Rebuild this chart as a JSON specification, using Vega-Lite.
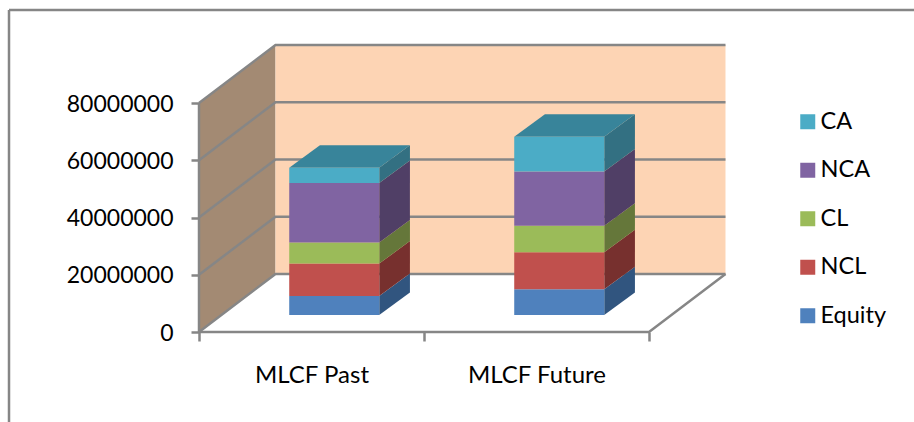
{
  "$schema": "https://vega.github.io/schema/vega-lite/v6.json",
  "width": 914,
  "height": 422,
  "padding": 0,
  "autosize": {"type": "none"},
  "background": "white",
  "view": {"stroke": null},
  "config": {"font": "Lato"},
  "params": [
    {"name": "wallDx", "value": 0.34},
    {"name": "wallDy", "value": 20260000},
    {"name": "barDx", "value": 0.1364},
    {"name": "barDy", "value": 7860000},
    {"name": "barBase", "value": 5940000},
    {"name": "barStart", "value": 0.401},
    {"name": "barWidth", "value": 0.4}
  ],
  "datasets": {
    "levels": [
      {"level": 0},
      {"level": 20000000},
      {"level": 40000000},
      {"level": 60000000},
      {"level": 80000000}
    ],
    "bars": [
      {"category": "MLCF Past", "series": "Equity", "value": 6650000},
      {"category": "MLCF Past", "series": "NCL", "value": 11300000},
      {"category": "MLCF Past", "series": "CL", "value": 7350000},
      {"category": "MLCF Past", "series": "NCA", "value": 20800000},
      {"category": "MLCF Past", "series": "CA", "value": 5360000},
      {"category": "MLCF Future", "series": "Equity", "value": 9000000},
      {"category": "MLCF Future", "series": "NCL", "value": 12950000},
      {"category": "MLCF Future", "series": "CL", "value": 9200000},
      {"category": "MLCF Future", "series": "NCA", "value": 19000000},
      {"category": "MLCF Future", "series": "CA", "value": 12150000}
    ]
  },
  "layer": [
    {
      "description": "Outer chart frame, left and top edges",
      "data": {"values": [{"edge": "left", "x": -0.8444, "x2": -0.8444, "y": -31441000, "y2": 112490000}, {"edge": "top", "x": -0.8444, "x2": 3.1778, "y": 112490000, "y2": 112490000}]},
      "mark": {"type": "rule", "color": "#868686", "strokeWidth": 2.5},
      "encoding": {
        "x": {"field": "x", "type": "quantitative", "title": null, "axis": null, "scale": {"domain": [-0.88444, 3.17778], "nice": false, "zero": false}},
        "x2": {"field": "x2"},
        "y": {"field": "y", "type": "quantitative", "title": null, "axis": null, "scale": {"domain": [-31441000, 115983000], "nice": false, "zero": false}},
        "y2": {"field": "y2"}
      }
    },
    {
      "description": "Side wall, a parallelogram running from the front plane to the back plane",
      "data": {"values": [{"depth": 0}, {"depth": 1}]},
      "transform": [
        {"calculate": "datum.depth * wallDx", "as": "wx"},
        {"calculate": "datum.depth * wallDy", "as": "wy"},
        {"calculate": "datum.wy + 80000000", "as": "wy2"}
      ],
      "mark": {"type": "area", "orient": "vertical", "color": "#A38A73"},
      "encoding": {
        "x": {"field": "wx", "type": "quantitative", "axis": null},
        "y": {"field": "wy", "type": "quantitative", "axis": null, "stack": null},
        "y2": {"field": "wy2"}
      }
    },
    {
      "description": "Back wall",
      "data": {"values": [{"wall": "back"}]},
      "transform": [
        {"calculate": "wallDx", "as": "wx"},
        {"calculate": "wallDx + 2", "as": "wx2"},
        {"calculate": "wallDy", "as": "wy"},
        {"calculate": "wallDy + 80000000", "as": "wy2"}
      ],
      "mark": {"type": "rect", "color": "#FDD4B4"},
      "encoding": {
        "x": {"field": "wx", "type": "quantitative", "axis": null},
        "x2": {"field": "wx2"},
        "y": {"field": "wy", "type": "quantitative", "axis": null},
        "y2": {"field": "wy2"}
      }
    },
    {
      "description": "Gridlines: up the side wall, then across the back wall",
      "data": {"name": "levels"},
      "transform": [
        {"calculate": "[0, 1, 2]", "as": "step"},
        {"flatten": ["step"]},
        {"calculate": "datum.step === 0 ? 0 : (datum.step === 1 ? wallDx : wallDx + 2)", "as": "gx"},
        {"calculate": "datum.level + (datum.step === 0 ? 0 : wallDy)", "as": "gy"}
      ],
      "mark": {"type": "line", "color": "#868686", "strokeWidth": 2.5},
      "encoding": {
        "x": {"field": "gx", "type": "quantitative", "axis": null},
        "y": {"field": "gy", "type": "quantitative", "axis": null},
        "detail": {"field": "level"},
        "order": {"field": "step"}
      }
    },
    {
      "description": "Front edge of the floor and its right-hand slant",
      "data": {"values": [{"step": 0}, {"step": 1}, {"step": 2}]},
      "transform": [
        {"calculate": "datum.step === 0 ? 0 : (datum.step === 1 ? 2 : 2 + wallDx)", "as": "gx"},
        {"calculate": "datum.step === 2 ? wallDy : 0", "as": "gy"}
      ],
      "mark": {"type": "line", "color": "#868686", "strokeWidth": 2.5},
      "encoding": {
        "x": {"field": "gx", "type": "quantitative", "axis": null},
        "y": {"field": "gy", "type": "quantitative", "axis": null},
        "order": {"field": "step"}
      }
    },
    {
      "description": "Left front edge of the wall",
      "data": {"values": [{"y": 0, "y2": 80000000, "x": 0}]},
      "mark": {"type": "rule", "color": "#868686", "strokeWidth": 2.5},
      "encoding": {
        "x": {"field": "x", "type": "quantitative", "axis": null},
        "y": {"field": "y", "type": "quantitative", "axis": null},
        "y2": {"field": "y2"}
      }
    },
    {
      "description": "Value axis",
      "data": {"name": "levels"},
      "mark": {"type": "tick", "opacity": 0},
      "encoding": {
        "y": {
          "field": "level",
          "type": "quantitative",
          "title": null,
          "axis": {
            "orient": "left",
            "values": [0, 20000000, 40000000, 60000000, 80000000],
            "format": "d",
            "offset": -199,
            "domain": false,
            "grid": false,
            "ticks": true,
            "tickSize": 8,
            "tickWidth": 2.5,
            "tickColor": "#868686",
            "labelFontSize": 23,
            "labelColor": "#000000",
            "labelPadding": 18,
            "labelOffset": 1
          }
        }
      }
    },
    {
      "description": "Category axis ticks between the groups",
      "data": {"values": [{"t": 0}, {"t": 1}, {"t": 2}]},
      "mark": {"type": "tick", "opacity": 0},
      "encoding": {
        "x": {
          "field": "t",
          "type": "quantitative",
          "title": null,
          "axis": {
            "orient": "bottom",
            "values": [0, 1, 2],
            "offset": -90,
            "domain": false,
            "grid": false,
            "labels": false,
            "tickSize": 9,
            "tickWidth": 2.5,
            "tickColor": "#868686"
          }
        }
      }
    },
    {
      "description": "Category axis labels centred under each group",
      "data": {"values": [{"c": 0.5}, {"c": 1.5}]},
      "mark": {"type": "tick", "opacity": 0},
      "encoding": {
        "x": {
          "field": "c",
          "type": "quantitative",
          "title": null,
          "axis": {
            "orient": "bottom",
            "values": [0.5, 1.5],
            "labelExpr": "datum.value < 1 ? 'MLCF Past' : 'MLCF Future'",
            "offset": -90,
            "domain": false,
            "grid": false,
            "ticks": false,
            "labelFontSize": 24,
            "labelColor": "#000000",
            "labelPadding": 31
          }
        }
      }
    },
    {
      "description": "Stacked boxes: right side faces, lid and front faces",
      "data": {"name": "bars"},
      "transform": [
        {"calculate": "indexof(['Equity', 'NCL', 'CL', 'NCA', 'CA'], datum.series)", "as": "rank"},
        {"stack": "value", "groupby": ["category"], "sort": [{"field": "rank", "order": "ascending"}], "as": ["v0", "v1"]},
        {"calculate": "indexof(['MLCF Past', 'MLCF Future'], datum.category) + barStart", "as": "left"},
        {"calculate": "datum.left + barWidth", "as": "right"},
        {"calculate": "datum.v0 + barBase", "as": "low"},
        {"calculate": "datum.v1 + barBase", "as": "high"}
      ],
      "layer": [
        {
          "transform": [
            {"calculate": "[0, 1]", "as": "depth"},
            {"flatten": ["depth"]},
            {"calculate": "datum.right + datum.depth * barDx", "as": "sx"},
            {"calculate": "datum.low + datum.depth * barDy", "as": "sy"},
            {"calculate": "datum.high + datum.depth * barDy", "as": "sy2"}
          ],
          "mark": {"type": "area", "orient": "vertical"},
          "encoding": {
            "x": {"field": "sx", "type": "quantitative", "axis": null},
            "y": {"field": "sy", "type": "quantitative", "axis": null, "stack": null},
            "y2": {"field": "sy2"},
            "detail": {"field": "category"},
            "color": {
              "field": "series",
              "type": "nominal",
              "legend": null,
              "scale": {"domain": ["CA", "NCA", "CL", "NCL", "Equity"], "range": ["#337082", "#503F66", "#65773A", "#77302E", "#31557F"]}
            }
          }
        },
        {
          "transform": [
            {"filter": "datum.series === 'CA'"},
            {"calculate": "[0, 1]", "as": "depth"},
            {"flatten": ["depth"]},
            {"calculate": "datum.left + datum.depth * barDx", "as": "tx"},
            {"calculate": "datum.right + datum.depth * barDx", "as": "tx2"},
            {"calculate": "datum.high + datum.depth * barDy", "as": "ty"}
          ],
          "mark": {"type": "area", "orient": "horizontal", "color": "#38849A"},
          "encoding": {
            "x": {"field": "tx", "type": "quantitative", "axis": null, "stack": null},
            "x2": {"field": "tx2"},
            "y": {"field": "ty", "type": "quantitative", "axis": null},
            "detail": {"field": "category"}
          }
        },
        {
          "mark": {"type": "rect"},
          "encoding": {
            "x": {"field": "left", "type": "quantitative", "axis": null},
            "x2": {"field": "right"},
            "y": {"field": "low", "type": "quantitative", "axis": null},
            "y2": {"field": "high"},
            "color": {
              "field": "series",
              "type": "nominal",
              "scale": {"domain": ["CA", "NCA", "CL", "NCL", "Equity"], "range": ["#4BACC6", "#8064A2", "#9BBB59", "#C0504D", "#4F81BD"]},
              "legend": {
                "title": null,
                "orient": "none",
                "legendX": 796,
                "legendY": 110,
                "symbolType": "square",
                "symbolSize": 225,
                "symbolStrokeWidth": 0,
                "labelFontSize": 23.5,
                "labelColor": "#000000",
                "labelOffset": 1,
                "rowPadding": 23.5
              }
            }
          }
        }
      ],
      "resolve": {"scale": {"color": "independent"}}
    }
  ],
  "resolve": {"axis": {"x": "independent", "y": "independent"}, "scale": {"color": "independent"}}
}
